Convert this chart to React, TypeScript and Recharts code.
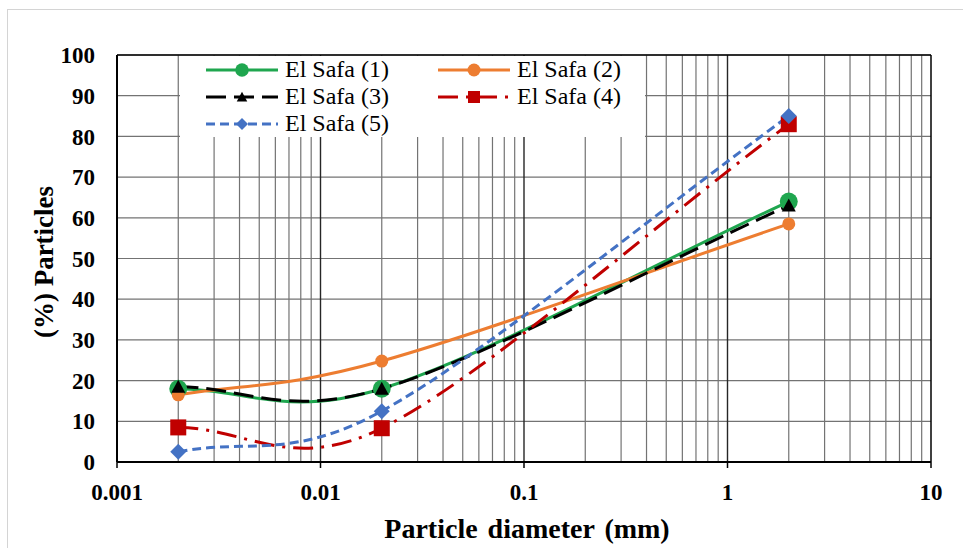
import { CartesianGrid, Label, Line, LineChart, ReferenceLine, XAxis, YAxis } from "recharts";

// particle diameters (mm) and % particles for each El Safa sample
const DIAMETERS = [0.002, 0.02, 2];
const SAFA_1 = [18, 18, 64];
const SAFA_2 = [16.5, 24.8, 58.5];
const SAFA_3 = [18.5, 18, 63];
const SAFA_4 = [8.5, 8.3, 83];
const SAFA_5 = [2.5, 12.5, 85];

const X_TICKS = [0.001, 0.01, 0.1, 1, 10];
const Y_TICKS = [0, 10, 20, 30, 40, 50, 60, 70, 80, 90, 100];

const FONT = "'Liberation Serif', 'Times New Roman', serif";

type Shape = "circle" | "dot" | "triangle" | "square" | "diamond";

const SERIES: {
  key: string;
  name: string;
  values: number[];
  color: string;
  dash?: string;
  shape: Shape;
}[] = [
  { key: "s1", name: "El Safa (1)", values: SAFA_1, color: "#1fa64f", shape: "circle" },
  { key: "s2", name: "El Safa (2)", values: SAFA_2, color: "#ed7d31", shape: "dot" },
  { key: "s3", name: "El Safa (3)", values: SAFA_3, color: "#000000", dash: "20 8", shape: "triangle" },
  { key: "s4", name: "El Safa (4)", values: SAFA_4, color: "#c00000", dash: "20 8 3 8", shape: "square" },
  { key: "s5", name: "El Safa (5)", values: SAFA_5, color: "#4472c4", dash: "9 5", shape: "diamond" }
];

const rows = DIAMETERS.map((d, i) => {
  const row: Record<string, number> = { d };
  SERIES.forEach((s) => {
    row[s.key] = s.values[i];
  });
  return row;
});

// decade lines plus the 2..9 subdivisions of each decade
const MINOR_X: number[] = [];
for (let decade = 0.001; decade < 5; decade *= 10) {
  for (let m = 2; m <= 9; m++) MINOR_X.push(+(decade * m).toPrecision(3));
}
const MAJOR_X = [0.01, 0.1, 1];

const dist = (a: number[], b: number[]) => Math.hypot(a[0] - b[0], a[1] - b[1]);

// spreadsheet-style smoothing: beziers with catmull-rom tangents,
// legs clamped to half the segment, 1/3 legs on the end segments
function smoothCurve(context: any) {
  let pts: number[][] = [];
  return {
    areaStart() {},
    areaEnd() {},
    lineStart() {
      pts = [];
    },
    point(x: number, y: number) {
      pts.push([+x, +y]);
    },
    lineEnd() {
      const n = pts.length;
      if (!n) return;
      context.moveTo(pts[0][0], pts[0][1]);
      for (let i = 0; i < n - 1; i++) {
        const first = i === 0;
        const last = i === n - 2;
        const p0 = pts[Math.max(i - 1, 0)];
        const p1 = pts[i];
        const p2 = pts[i + 1];
        const p3 = pts[Math.min(i + 2, n - 1)];
        const d12 = dist(p1, p2);
        const d02 = dist(p0, p2);
        const d13 = dist(p1, p3);
        const f1 = d02 / 6 < d12 / 2 ? (first ? 1 / 3 : 1 / 6) : d12 / (2 * d02);
        const f2 = d13 / 6 < d12 / 2 ? (last ? 1 / 3 : 1 / 6) : d12 / (2 * d13);
        context.bezierCurveTo(
          p1[0] + (p2[0] - p0[0]) * f1,
          p1[1] + (p2[1] - p0[1]) * f1,
          p2[0] - (p3[0] - p1[0]) * f2,
          p2[1] - (p3[1] - p1[1]) * f2,
          p2[0],
          p2[1]
        );
      }
    }
  };
}

function Marker({ shape, cx, cy, color, scale = 1 }: { shape: Shape; cx: number; cy: number; color: string; scale?: number }) {
  if (shape === "circle") return <circle cx={cx} cy={cy} r={9 * scale} fill={color} />;
  if (shape === "dot") return <circle cx={cx} cy={cy} r={6.5 * scale} fill={color} />;
  if (shape === "triangle") {
    const h = 7 * scale;
    return <polygon points={`${cx},${cy - h} ${cx - h},${cy + h * 0.85} ${cx + h},${cy + h * 0.85}`} fill={color} />;
  }
  if (shape === "square") {
    const h = 8 * scale;
    return <rect x={cx - h} y={cy - h} width={2 * h} height={2 * h} fill={color} />;
  }
  const h = 8 * scale;
  return <polygon points={`${cx},${cy - h} ${cx + h},${cy} ${cx},${cy + h} ${cx - h},${cy}`} fill={color} />;
}

function LegendBox() {
  return (
    <div
      style={{
        position: "absolute",
        left: 180,
        top: 56,
        width: 465,
        height: 81,
        background: "#fff",
        fontFamily: FONT,
        fontSize: 24,
        color: "#000"
      }}
    >
      {SERIES.map((s, i) => (
        <div
          key={s.key}
          style={{
            position: "absolute",
            left: i % 2 === 0 ? 25 : 257,
            top: Math.floor(i / 2) * 27,
            height: 27,
            display: "flex",
            alignItems: "center",
            whiteSpace: "nowrap"
          }}
        >
          <svg width={74} height={26} style={{ marginRight: 6 }}>
            <line x1={1} y1={13} x2={73} y2={13} stroke={s.color} strokeWidth={3} strokeDasharray={s.dash} />
            <Marker shape={s.shape} cx={37} cy={13} color={s.color} scale={s.shape === "dot" ? 1 : 0.75} />
          </svg>
          {s.name}
        </div>
      ))}
    </div>
  );
}

export default function App() {
  return (
    <div style={{ position: "fixed", left: 0, top: 0, width: 963, height: 548, background: "#fff" }}>
      <div
        style={{
          position: "absolute",
          left: 7,
          top: 9,
          width: 960,
          height: 545,
          borderLeft: "1px solid #d4d4d4",
          borderTop: "1px solid #d4d4d4"
        }}
      />
      <div style={{ position: "absolute", left: 0, top: 0 }}>
        <LineChart width={963} height={548} data={rows} margin={{ top: 55, right: 32, left: 0, bottom: 0 }}>
          <CartesianGrid vertical={false} stroke="#737373" strokeWidth={1.2} />
          {MINOR_X.map((v) => (
            <ReferenceLine key={`m${v}`} x={v} stroke="#737373" strokeWidth={1.2} />
          ))}
          {MAJOR_X.map((v) => (
            <ReferenceLine key={`M${v}`} x={v} stroke="#262626" strokeWidth={1.4} />
          ))}
          <ReferenceLine y={100} stroke="#000" strokeWidth={1.5} />
          <ReferenceLine x={10} stroke="#000" strokeWidth={1.5} />
          <XAxis
            dataKey="d"
            type="number"
            scale="log"
            domain={[0.001, 10]}
            ticks={X_TICKS}
            allowDataOverflow
            height={86}
            axisLine={{ stroke: "#000", strokeWidth: 2 }}
            tickLine={{ stroke: "#000", strokeWidth: 1.5 }}
            tickSize={6}
            tickMargin={16}
            tick={{ fill: "#000", fontFamily: FONT, fontSize: 23, fontWeight: 700 }}
          >
            <Label
              content={() => (
                <text x={527} y={538} textAnchor="middle" fontFamily={FONT} fontSize={28} fontWeight={700} fill="#000" wordSpacing={3}>
                  Particle diameter (mm)
                </text>
              )}
            />
          </XAxis>
          <YAxis
            type="number"
            domain={[0, 100]}
            ticks={Y_TICKS}
            width={117}
            axisLine={{ stroke: "#000", strokeWidth: 2 }}
            tickLine={false}
            tickSize={0}
            tickMargin={22}
            tick={{ fill: "#000", fontFamily: FONT, fontSize: 23, fontWeight: 700 }}
          >
            <Label
              content={() => (
                <text
                  x={53}
                  y={262}
                  transform="rotate(-90 53 262)"
                  textAnchor="middle"
                  fontFamily={FONT}
                  fontSize={27}
                  fontWeight={700}
                  fill="#000"
                >
                  (%) Particles
                </text>
              )}
            />
          </YAxis>
          {SERIES.map((s) => (
            <Line
              key={s.key}
              dataKey={s.key}
              name={s.name}
              type={smoothCurve as any}
              stroke={s.color}
              strokeWidth={3}
              strokeDasharray={s.dash}
              isAnimationActive={false}
              activeDot={false}
              dot={(p: any) => (
                <Marker key={`${s.key}-${p.index}`} shape={s.shape} cx={p.cx} cy={p.cy} color={s.color} />
              )}
            />
          ))}
        </LineChart>
        <LegendBox />
      </div>
    </div>
  );
}
